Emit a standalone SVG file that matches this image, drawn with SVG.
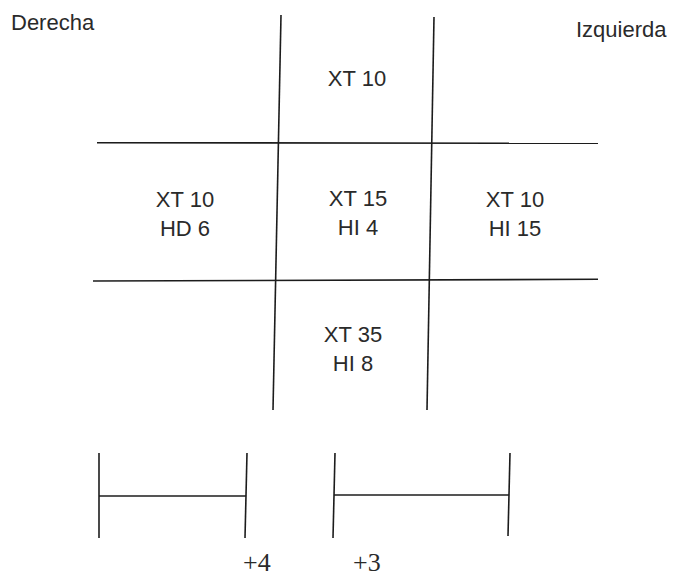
<svg xmlns="http://www.w3.org/2000/svg" width="675" height="579" viewBox="0 0 675 579">
  <style>
    .ln { stroke: #1c1c1c; stroke-width: 1.6; fill: none; stroke-linecap: butt; }
    .t { font-family: "Liberation Sans", Arial, sans-serif; font-size: 22px; fill: #2a2a2a; text-anchor: middle; }
    .lbl { font-family: "Liberation Sans", Arial, sans-serif; font-size: 22px; fill: #2a2a2a; }
    .num { font-family: "Liberation Serif", "Times New Roman", serif; font-size: 26px; fill: #2a2a2a; }
  </style>
  <rect width="675" height="579" fill="#ffffff"/>

  <g id="connectors">
    <line class="ln" x1="281" y1="15" x2="273" y2="410"/>
    <line class="ln" x1="434" y1="17" x2="427" y2="410"/>
    <line class="ln" x1="97" y1="142.7" x2="598" y2="143.3"/>
    <line class="ln" x1="93" y1="281" x2="598" y2="279.3"/>
  </g>

  <g id="label-derecha"><text class="lbl" x="11" y="30">Derecha</text></g>
  <g id="label-izquierda"><text class="lbl" x="576" y="37">Izquierda</text></g>

  <g id="cell-top"><text class="t" x="357" y="86">XT 10</text></g>
  <g id="cell-left">
    <text class="t" x="185" y="207">XT 10</text>
    <text class="t" x="185" y="236">HD 6</text>
  </g>
  <g id="cell-center">
    <text class="t" x="358" y="206">XT 15</text>
    <text class="t" x="358" y="235">HI 4</text>
  </g>
  <g id="cell-right">
    <text class="t" x="515" y="207">XT 10</text>
    <text class="t" x="515" y="236">HI 15</text>
  </g>
  <g id="cell-bottom">
    <text class="t" x="353" y="342">XT 35</text>
    <text class="t" x="353" y="371">HI 8</text>
  </g>

  <g id="bracket-left">
    <line class="ln" x1="99" y1="453" x2="99" y2="538"/>
    <line class="ln" x1="247" y1="453" x2="245" y2="538"/>
    <line class="ln" x1="99" y1="496" x2="246" y2="496"/>
    <text class="num" x="243" y="571">+4</text>
  </g>
  <g id="bracket-right">
    <line class="ln" x1="335" y1="453" x2="333" y2="538"/>
    <line class="ln" x1="510" y1="453" x2="508" y2="536"/>
    <line class="ln" x1="334" y1="495" x2="509" y2="495"/>
    <text class="num" x="353" y="571">+3</text>
  </g>
</svg>
